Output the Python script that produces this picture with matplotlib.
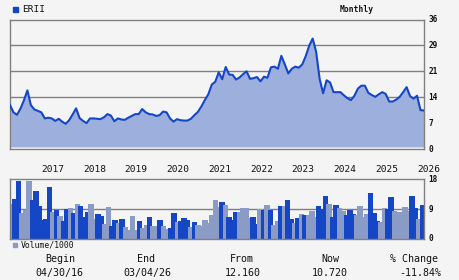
import numpy as np
import matplotlib
matplotlib.use('Agg')
import matplotlib.pyplot as plt
from matplotlib.patches import Rectangle

plt.rcParams['font.family'] = ['DejaVu Sans Mono', 'DejaVu Sans']

# 数据
ticker = 'ERII'
period = 'Monthly'
begin_date = '04/30/16'
end_date = '03/04/26'
price_from = '12.160'
price_now = '10.720'
pct_change = '-11.84%'

years = [2017, 2018, 2019, 2020, 2021, 2022, 2023, 2024, 2025, 2026]

# 月度收盘价, 2016-04 起
price = [
    12.2, 10.2, 9.5, 11.2, 13.5, 16.3, 12.2, 11.0, 10.6, 10.2,
    8.5, 8.7, 8.5, 7.8, 8.4, 7.6, 7.0, 8.0, 9.6, 11.3,
    8.6, 7.8, 7.2, 8.5, 8.5, 8.4, 8.3, 8.8, 9.7, 9.3,
    7.7, 8.5, 8.2, 8.1, 8.7, 9.2, 9.7, 9.7, 11.1, 10.2,
    9.7, 9.6, 9.2, 9.4, 10.4, 10.2, 8.5, 7.6, 8.3, 8.0,
    7.9, 7.9, 8.4, 9.4, 10.3, 11.8, 13.6, 15.2, 17.9, 18.7,
    21.3, 19.4, 22.8, 20.7, 20.6, 19.3, 19.9, 20.8, 21.6, 19.5,
    19.7, 20.0, 18.8, 20.1, 19.8, 22.7, 22.9, 22.3, 25.9, 23.5,
    21.0, 22.3, 22.9, 22.6, 23.5, 25.8, 28.7, 30.7, 27.0, 19.5,
    15.5, 19.1, 18.5, 15.8, 15.8, 15.8, 14.9, 14.1, 13.6, 14.8,
    16.8, 17.6, 17.6, 15.6, 15.0, 14.5, 15.2, 15.8, 15.3, 13.2,
    13.2, 13.7, 14.5, 15.8, 17.2, 14.7, 14.0, 14.8, 10.8, 10.7,
]

# 成交量 / 1000
volume = [
    10.2, 11.7, 17.2, 7.4, 8.4, 17.2, 11.4, 14.2, 9.6, 5.4,
    5.7, 15.4, 7.7, 8.4, 6.6, 5.1, 8.7, 9.1, 7.5, 10.2,
    9.6, 6.3, 7.8, 10.2, 5.7, 7.2, 6.6, 4.1, 9.3, 3.5,
    5.4, 4.4, 5.7, 3.2, 2.3, 6.6, 2.3, 5.1, 2.9, 3.8,
    6.3, 3.5, 3.5, 5.4, 3.5, 2.6, 2.9, 7.5, 4.8, 5.1,
    6.0, 5.4, 3.2, 4.8, 3.8, 3.5, 5.4, 4.4, 6.9, 11.4,
    9.2, 10.8, 9.9, 6.3, 5.4, 7.8, 7.8, 9.1, 9.1, 6.0,
    6.3, 4.1, 8.7, 8.4, 9.9, 8.4, 3.8, 5.1, 9.6, 9.6,
    11.4, 5.7, 4.4, 6.0, 7.2, 6.9, 6.9, 8.1, 6.3, 9.6,
    8.8, 12.6, 10.2, 6.3, 9.9, 9.1, 8.1, 6.9, 8.4, 7.2,
    6.9, 9.6, 6.3, 7.2, 13.5, 7.5, 5.1, 4.8, 9.1, 8.7,
    12.3, 8.1, 7.8, 7.8, 9.3, 8.1, 12.6, 9.1, 5.7, 9.9,
]
# 1 = 深色柱, 0 = 浅色柱
vol_dark = [
    0, 1, 1, 0, 0, 0, 1, 1, 1, 1,
    1, 1, 0, 1, 0, 1, 1, 0, 1, 0,
    1, 1, 1, 0, 0, 1, 1, 0, 0, 1,
    1, 0, 1, 0, 0, 0, 0, 1, 0, 0,
    1, 0, 0, 1, 0, 0, 1, 1, 0, 1,
    1, 1, 0, 1, 0, 0, 0, 0, 0, 0,
    0, 1, 0, 1, 1, 1, 0, 0, 0, 0,
    1, 1, 0, 1, 0, 1, 0, 0, 1, 0,
    1, 1, 0, 1, 0, 1, 0, 0, 0, 1,
    1, 1, 0, 1, 1, 0, 0, 1, 1, 1,
    0, 0, 0, 0, 1, 1, 1, 0, 0, 1,
    1, 0, 0, 0, 0, 0, 1, 1, 0, 1,
]

price_ticks = [0, 7.2, 14.4, 21.6, 28.8, 36]
price_tick_labels = ['0', '7', '14', '21', '29', '36']
vol_ticks = [0, 9, 18]
vol_tick_labels = ['0', '9', '18']

# 样式
W, H = 460, 280
BG = '#f4f4f4'
GRID = '#808080'
LINE = '#1446c8'
FILL = '#9db0dd'
DARK = '#1446c6'
LIGHT = '#8a9bc6'
TXT = '#111111'


def fx(x):
    return x / W


def fy(y):
    return 1 - y / H


fig = plt.figure(figsize=(W / 100, H / 100), dpi=100, facecolor=BG)

months = np.arange(len(price))

# 价格面板
ax = fig.add_axes([fx(10), fy(149), fx(414), 129.5 / H])
ax.set_facecolor(BG)
for t in price_ticks[1:-1]:
    ax.axhline(t, color=GRID, lw=1.0, zorder=1)
ax.fill_between(months, 0.6, price, color=FILL, lw=0, zorder=2)
ax.plot(months, price, color=LINE, lw=1.5, zorder=3)
ax.set_xlim(0, len(price) - 1)
ax.set_ylim(0, 36)
ax.set_xticks([])
ax.set_yticks([])
for s in ax.spines.values():
    s.set_color(GRID)
    s.set_linewidth(1.0)
for t, lab in zip(price_ticks, price_tick_labels):
    ax.text(1.01, t / 36, lab, transform=ax.transAxes, ha='left', va='center',
            fontsize=5.6, fontweight='bold', color=TXT)

# 年份标签 (左对齐于每年一月)
for yr in years:
    m = (yr - 2016) * 12 - 3
    xd = ax.transData.transform((m, 0))[0]
    xf = fig.transFigure.inverted().transform((xd, 0))[0]
    fig.text(xf, fy(170), str(yr), ha='left', va='center', fontsize=6.8, color=TXT)

# 成交量面板
axv = fig.add_axes([fx(10), fy(238.7), fx(414), 59.4 / H])
axv.set_facecolor(BG)
axv.axhline(9, color=GRID, lw=1.0, zorder=1)
colors = [DARK if d else LIGHT for d in vol_dark]
axv.bar(np.arange(len(volume)), volume, width=1.0, color=colors,
        edgecolor=colors, lw=0.3, antialiased=False, zorder=2)
axv.set_xlim(-0.5, len(volume) - 0.5)
axv.set_ylim(0, 18)
axv.set_xticks([])
axv.set_yticks([])
for s in axv.spines.values():
    s.set_color(GRID)
    s.set_linewidth(1.0)
for t, lab in zip(vol_ticks, vol_tick_labels):
    axv.text(1.01, t / 18, lab, transform=axv.transAxes, ha='left', va='center',
             fontsize=5.6, fontweight='bold', color=TXT)

# 图例与标题
fig.patches.append(Rectangle((fx(13.3), fy(11.7)), 4.4 / W, 4.4 / H,
                             transform=fig.transFigure, color=DARK))
fig.text(fx(22.5), fy(9.5), ticker, ha='left', va='center', fontsize=6.8, color=TXT)
fig.text(fx(357), fy(9.5), period, ha='center', va='center', fontsize=5.8,
         fontweight='bold', color=TXT)

fig.patches.append(Rectangle((fx(12.7), fy(247.3)), 4.4 / W, 4.4 / H,
                             transform=fig.transFigure, color=LIGHT))
fig.text(fx(20.7), fy(245.5), 'Volume/1000', ha='left', va='center', fontsize=5.9,
         color=TXT)

# 底部汇总
labels = ['Begin', 'End', 'From', 'Now', '% Change']
values = [begin_date, end_date, price_from, price_now, pct_change]
label_x = [60.5, 146.3, 241.7, 330.5, 414]
value_x = [59.5, 147.7, 243, 329.5, 420.5]
for lx, vx, lab, val in zip(label_x, value_x, labels, values):
    fig.text(fx(lx), fy(259.3), lab, ha='center', va='center', fontsize=7.2, color=TXT)
    fig.text(fx(vx), fy(272.7), val, ha='center', va='center', fontsize=7.2, color=TXT)

fig.savefig('out.png', dpi=100, facecolor=BG)
